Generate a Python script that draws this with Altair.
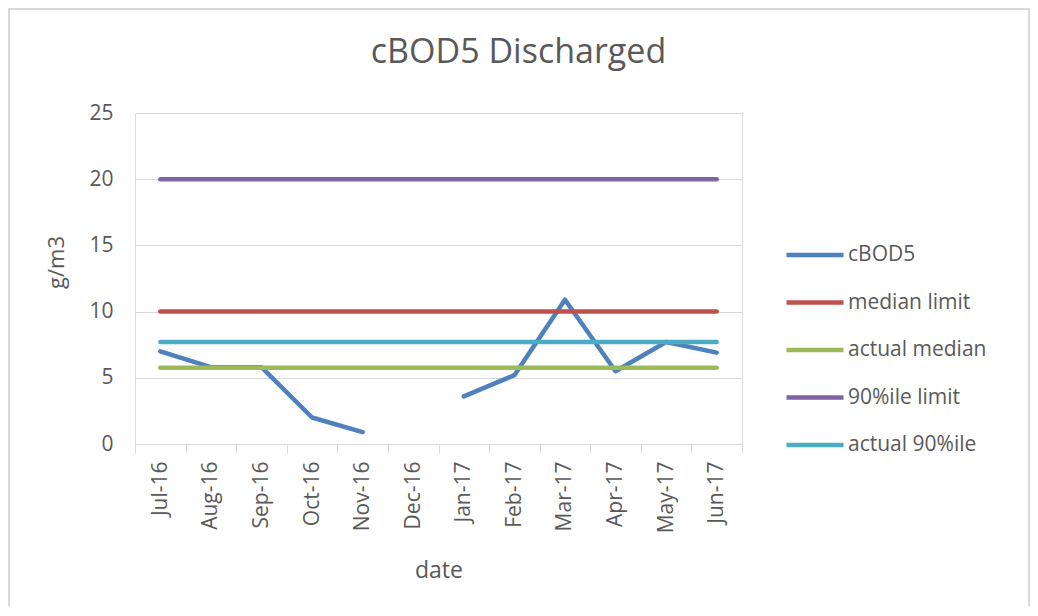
import altair as alt
import pandas as pd

months = ["Jul-16", "Aug-16", "Sep-16", "Oct-16", "Nov-16", "Dec-16",
          "Jan-17", "Feb-17", "Mar-17", "Apr-17", "May-17", "Jun-17"]
cbod5 = [7.0, 5.8, 5.8, 2.0, 0.9, None, 3.6, 5.2, 10.9, 5.5, 7.7, 6.9]
median_limit = [10, 10, 10, 10, 10, 10, 10, 10, 10, 10, 10, 10]
actual_median = [5.75, 5.75, 5.75, 5.75, 5.75, 5.75, 5.75, 5.75, 5.75, 5.75, 5.75, 5.75]
p90_limit = [20, 20, 20, 20, 20, 20, 20, 20, 20, 20, 20, 20]
actual_p90 = [7.7, 7.7, 7.7, 7.7, 7.7, 7.7, 7.7, 7.7, 7.7, 7.7, 7.7, 7.7]

series_names = ["cBOD5", "median limit", "actual median", "90%ile limit", "actual 90%ile"]
series_values = [cbod5, median_limit, actual_median, p90_limit, actual_p90]
colors = ["#4F81BD", "#C0504D", "#9BBB59", "#8064A2", "#4BACC6"]
y_ticks = [0, 5, 10, 15, 20, 25]

rows = []
for name, vals in zip(series_names, series_values):
    seg = 0
    for i, (m, v) in enumerate(zip(months, vals)):
        if v is None:
            seg += 1
            continue
        rows.append({"month": m, "idx": i, "value": v, "series": name,
                     "seg": f"{name}-{seg}"})
df = pd.DataFrame(rows)

TXT = "#595959"
GRID = "#d9d9d9"
FONT = "Open Sans"

frame = alt.Chart(alt.Data(values=[{}])).mark_rect(
    filled=False, stroke=GRID, strokeWidth=2
).encode(
    x=alt.value(-126), x2=alt.value(894), y=alt.value(-104), y2=alt.value(520)
)

lines = alt.Chart(df).mark_line(
    strokeWidth=4.5, strokeCap="round", strokeJoin="round"
).encode(
    x=alt.X("month:N", sort=months,
            scale=alt.Scale(type="band", domain=months, paddingInner=0, paddingOuter=0),
            axis=alt.Axis(title="date", labelAngle=-90, labelFontSize=21, labelColor=TXT,
                          labelFont=FONT, tickBand="extent", tickSize=9, tickColor=GRID,
                          domainColor=GRID, domainWidth=1, labelPadding=8, labelOverlap=False,
                          titleFontSize=23, titleFont=FONT, titleColor=TXT,
                          titleFontWeight="normal", titleY=133, titleBaseline="alphabetic",
                          grid=False)),
    y=alt.Y("value:Q", scale=alt.Scale(domain=[0, 25], nice=False),
            axis=alt.Axis(values=y_ticks, title="g/m3", domain=False, ticks=False,
                          labelPadding=22, labelFontSize=21, labelColor=TXT, labelFont=FONT,
                          gridColor=GRID, gridWidth=1, titleFontSize=22, titleFont=FONT,
                          titleColor=TXT, titleFontWeight="normal", titleX=-67, titleY=149)),
    color=alt.Color("series:N", scale=alt.Scale(domain=series_names, range=colors),
                    legend=alt.Legend(title=None, orient="none", legendX=668, legendY=130,
                                      symbolType="M-3,0L3,0", symbolSize=361,
                                      symbolStrokeWidth=4.5, labelFontSize=21, labelColor=TXT,
                                      labelFont=FONT, labelOffset=21, rowPadding=25.5,
                                      padding=0)),
    detail="seg:N",
    order=alt.Order("idx:Q"),
)

chart = alt.layer(frame, lines).properties(
    width=607, height=331,
    autosize=alt.AutoSizeParams(type="none"),
    padding={"left": 127, "top": 105, "right": 288, "bottom": 162},
    title=alt.TitleParams("cBOD5 Discharged", fontSize=34, font=FONT, color=TXT,
                          fontWeight="normal", anchor="middle", dx=80, offset=-89,
                          baseline="alphabetic"),
).configure_view(stroke="transparent").configure(font=FONT)

chart.save("out.html", embed_options={"renderer": "svg", "actions": False})
